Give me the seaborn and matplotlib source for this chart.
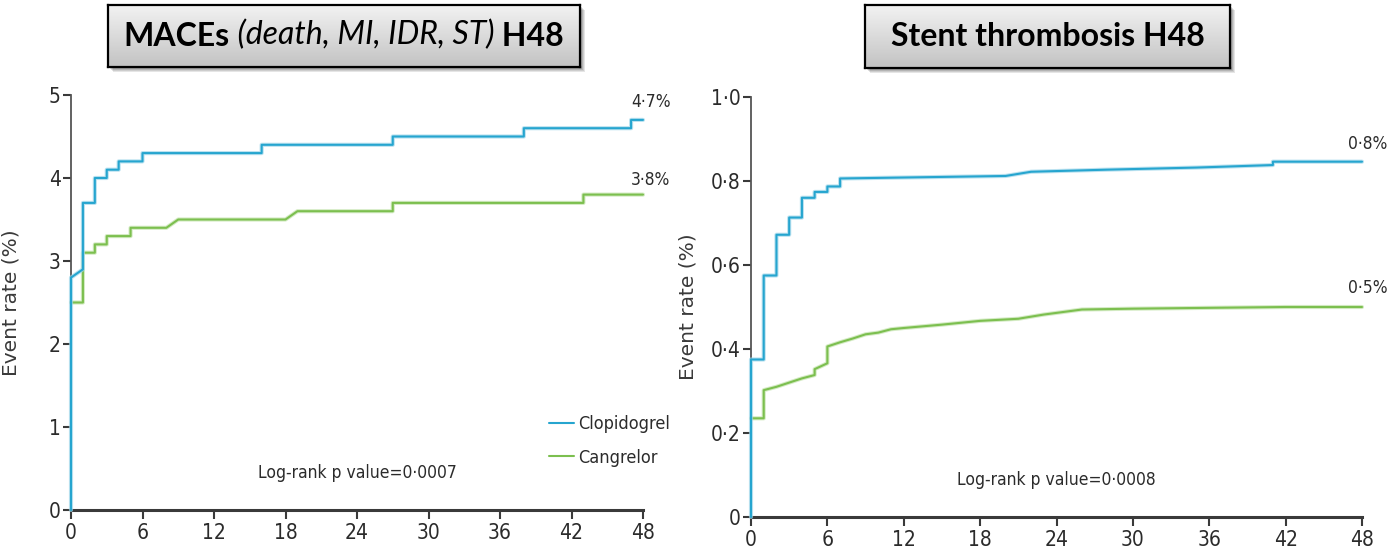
import numpy as np
import pandas as pd
import matplotlib
matplotlib.use("Agg")
import matplotlib.pyplot as plt
import matplotlib.patheffects as pe
from matplotlib import font_manager as fm
from matplotlib.colors import LinearSegmentedColormap
from matplotlib.patches import Rectangle
import seaborn as sns

# ---------------- data ----------------
groups = ["Clopidogrel", "Cangrelor"]

mace_clop_h = [0, 0, 1, 1, 2, 2, 3, 3, 4, 4, 6, 6, 16, 16, 27, 27, 38, 38, 47, 47, 48]
mace_clop_rate = [0, 2.8, 2.9, 3.7, 3.7, 4.0, 4.0, 4.1, 4.1, 4.2, 4.2, 4.3, 4.3, 4.4, 4.4,
                  4.5, 4.5, 4.6, 4.6, 4.7, 4.7]
mace_cang_h = [0, 1, 1, 2, 2, 3, 3, 5, 5, 8, 9, 18, 19, 27, 27, 43, 43, 48]
mace_cang_rate = [2.5, 2.5, 3.1, 3.1, 3.2, 3.2, 3.3, 3.3, 3.4, 3.4, 3.5, 3.5, 3.6, 3.6,
                  3.7, 3.7, 3.8, 3.8]

st_clop_h = [0, 0, 1, 1, 2, 2, 3, 3, 4, 4, 5, 5, 6, 6, 7, 7, 20, 22, 28, 35, 41, 41, 48]
st_clop_rate = [0, 0.375, 0.375, 0.575, 0.575, 0.672, 0.672, 0.713, 0.713, 0.760, 0.760,
                0.774, 0.774, 0.787, 0.787, 0.806, 0.812, 0.822, 0.827, 0.832, 0.838,
                0.846, 0.846]
st_cang_h = [0, 1, 1, 2, 3, 4, 5, 5, 6, 6, 7, 8, 9, 10, 11, 12, 15, 18, 21, 23, 26, 30,
             36, 42, 48]
st_cang_rate = [0.235, 0.235, 0.302, 0.310, 0.320, 0.330, 0.338, 0.352, 0.366, 0.406,
                0.416, 0.425, 0.435, 0.439, 0.447, 0.450, 0.458, 0.467, 0.472, 0.482,
                0.494, 0.496, 0.498, 0.500, 0.500]

hour_ticks = [0, 6, 12, 18, 24, 30, 36, 42, 48]
hour_ticklabels = ["0", "6", "12", "18", "24", "30", "36", "42", "48"]
mace_yticks = [0, 1, 2, 3, 4, 5]
mace_yticklabels = ["0", "1", "2", "3", "4", "5"]
st_yticks = [0, 0.2, 0.4, 0.6, 0.8, 1.0]
st_yticklabels = ["0", "0·2", "0·4", "0·6", "0·8", "1·0"]

mace_end_labels = ["4·7%", "3·8%"]
st_end_labels = ["0·8%", "0·5%"]
mace_pvalue = "Log-rank p value=0·0007"
st_pvalue = "Log-rank p value=0·0008"
ylabel = "Event rate (%)"

# ---------------- fonts ----------------
def pick_narrow():
    for fam, stretch in [("Liberation Sans Narrow", "normal"),
                         ("DejaVu Sans", "condensed"),
                         ("Roboto", "condensed")]:
        try:
            f = fm.findfont(fm.FontProperties(family=fam, stretch=stretch),
                            fallback_to_default=False)
            if "Narrow" in f or "Condensed" in f:
                return fam, stretch
        except Exception:
            pass
    return "Liberation Sans", "normal"


NARROW_FAM, NARROW_STRETCH = pick_narrow()

# ---------------- styling ----------------
W, H = 1388, 559
sns.set_theme(style="ticks")
plt.rcParams["font.family"] = [NARROW_FAM, "DejaVu Sans"]
plt.rcParams["font.stretch"] = NARROW_STRETCH
TXT = dict(family=[NARROW_FAM, "DejaVu Sans"], fontstretch=NARROW_STRETCH, color="#2b2b2b")

palette = {"Clopidogrel": "#26a5cf", "Cangrelor": "#7cbf4f"}
halo = {"Clopidogrel": "#9fd6ea", "Cangrelor": "#c3e3ac"}
axis_col = "#3a3a3a"

fig = plt.figure(figsize=(W / 100, H / 100), dpi=100)
fig.patch.set_facecolor("white")


def px_axes(x0, x1, ytop, ybot):
    return fig.add_axes([x0 / W, 1 - ybot / H, (x1 - x0) / W, (ybot - ytop) / H])


def make_df(h1, r1, h2, r2):
    return pd.concat([
        pd.DataFrame({"hours": h1, "rate": r1, "group": groups[0]}),
        pd.DataFrame({"hours": h2, "rate": r2, "group": groups[1]}),
    ], ignore_index=True)


def style_axes(ax, xlim, ylim, yticks, yticklabels):
    ax.set_xlim(*xlim)
    ax.set_ylim(*ylim)
    ax.set_xticks(hour_ticks)
    ax.set_xticklabels(hour_ticklabels)
    ax.set_yticks(yticks)
    ax.set_yticklabels(yticklabels)
    for s in ["top", "right"]:
        ax.spines[s].set_visible(False)
    ax.spines["left"].set_color("#555555")
    ax.spines["left"].set_linewidth(1.3)
    ax.spines["bottom"].set_color(axis_col)
    ax.spines["bottom"].set_linewidth(2.2)
    ax.tick_params(axis="x", length=6.5, width=1.5, color=axis_col, pad=3,
                   labelsize=15, labelcolor="#2b2b2b")
    ax.tick_params(axis="y", length=5.5, width=1.5, color=axis_col, pad=2,
                   labelsize=15, labelcolor="#2b2b2b")
    ax.set_xlabel("")
    ax.set_ylabel(ylabel, family="DejaVu Sans", fontstretch="normal", fontsize=14.5,
                  color="#3a3a3a")
    ax.yaxis.set_label_coords(-0.088, 0.5)
    ax.set_facecolor("white")
    ax.grid(False)


def draw_curves(ax, df, legend):
    sns.lineplot(data=df, x="hours", y="rate", hue="group", hue_order=groups,
                 palette=palette, estimator=None, sort=False, linewidth=1.5,
                 legend=legend, ax=ax)
    for line, g in zip(ax.lines[:2], groups):
        line.set_clip_on(False)
        line.set_path_effects([pe.Stroke(linewidth=3.0, foreground=halo[g], alpha=0.7),
                               pe.Normal()])
    ax.lines[0].set_zorder(3)


# ---------------- left: MACEs ----------------
ax1 = px_axes(71, 643, 95, 510)
df1 = make_df(mace_clop_h, mace_clop_rate, mace_cang_h, mace_cang_rate)
draw_curves(ax1, df1, legend=True)
style_axes(ax1, (0, 48), (0, 5), mace_yticks, mace_yticklabels)
leg = ax1.get_legend()
handles = leg.legend_handles
labels = [t.get_text() for t in leg.get_texts()]
lg = ax1.legend(handles, labels, loc="upper left", bbox_to_anchor=(0.835, 0.228),
                frameon=False, fontsize=13, handlelength=1.4, handletextpad=0.25,
                labelspacing=0.85, borderpad=0, borderaxespad=0)
for t in lg.get_texts():
    t.set_color("#2b2b2b")
ax1.text(47.0, 4.92, mace_end_labels[0], ha="left", va="center", fontsize=12.5,
         clip_on=False, **TXT)
ax1.text(47.0, 3.98, mace_end_labels[1], ha="left", va="center", fontsize=12.5,
         clip_on=False, **TXT)
ax1.text(24.0, 0.45, mace_pvalue, ha="center", va="center", fontsize=12.5, **TXT)

# ---------------- right: stent thrombosis ----------------
ax2 = px_axes(751, 1362, 97, 517)
df2 = make_df(st_clop_h, st_clop_rate, st_cang_h, st_cang_rate)
draw_curves(ax2, df2, legend=False)
style_axes(ax2, (0, 48), (0, 1.0), st_yticks, st_yticklabels)
ax2.text(46.9, 0.888, st_end_labels[0], ha="left", va="center", fontsize=12.5,
         clip_on=False, **TXT)
ax2.text(46.9, 0.545, st_end_labels[1], ha="left", va="center", fontsize=12.5,
         clip_on=False, **TXT)
ax2.text(24.0, 0.088, st_pvalue, ha="center", va="center", fontsize=12.5, **TXT)

# ---------------- title boxes ----------------
grad_cmap = LinearSegmentedColormap.from_list("g", ["#c3c3c3", "#f2f2f2"])
grad = np.linspace(0, 1, 64).reshape(-1, 1)


def title_box(x0, x1, y0, y1, pieces):
    for i, a in enumerate([0.10, 0.10, 0.12, 0.14]):
        off = 5 - i
        fig.add_artist(Rectangle(((x0 + off) / W, 1 - (y1 + off) / H),
                                 (x1 - x0) / W, (y1 - y0) / H,
                                 transform=fig.transFigure, facecolor="#000000",
                                 edgecolor="none", alpha=a, zorder=1))
    tax = px_axes(x0, x1, y0, y1)
    tax.set_zorder(2)
    tax.imshow(grad, aspect="auto", cmap=grad_cmap, extent=[0, 1, 0, 1], origin="lower")
    tax.set_xlim(0, 1)
    tax.set_ylim(0, 1)
    tax.set_xticks([])
    tax.set_yticks([])
    for s in tax.spines.values():
        s.set_visible(True)
        s.set_color("black")
        s.set_linewidth(1.6)
    texts = []
    prev = None
    for txt, weight, style in pieces:
        kw = dict(fontsize=23, fontweight=weight, fontstyle=style,
                  family=["Lato", "DejaVu Sans"], fontstretch="normal", color="black")
        if prev is None:
            t = tax.text(0.0, 0.5, txt, transform=tax.transAxes, ha="left",
                         va="center", **kw)
        else:
            t = tax.annotate(txt, xy=(1, 0), xycoords=prev, ha="left", va="bottom", **kw)
        texts.append(t)
        prev = t
    return tax, texts


tax1, t1 = title_box(108, 580, 5, 67, [("MACEs", "bold", "normal"),
                                        (" (death, MI, IDR, ST)", "normal", "italic"),
                                        (" H48", "bold", "normal")])
tax2, t2 = title_box(865, 1230, 5, 68, [("Stent thrombosis H48", "bold", "normal")])

fig.canvas.draw()
r = fig.canvas.get_renderer()
for tax, texts in [(tax1, t1), (tax2, t2)]:
    bb0 = texts[0].get_window_extent(r)
    bbn = texts[-1].get_window_extent(r)
    width = bbn.x1 - bb0.x0
    axbb = tax.get_window_extent(r)
    cx = (axbb.x0 + axbb.x1) / 2
    newx = (cx - width / 2 - axbb.x0) / axbb.width
    texts[0].set_x(newx)

fig.savefig("out.png", dpi=100, facecolor="white")
